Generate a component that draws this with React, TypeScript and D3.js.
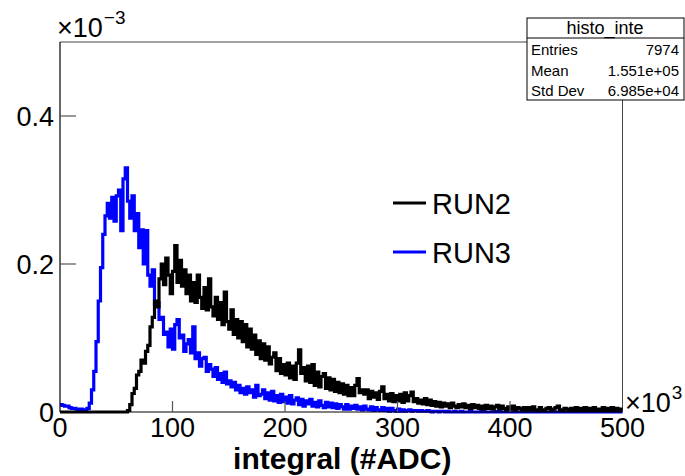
import React from "react";
import * as d3 from "d3";

// Histogram binning: 250 bins of 2000 ADC over 0..500k
const BIN_WIDTH = 2000;
const X_MAX = 500000;
const Y_MAX = 0.5e-3;
// Bin contents in units of 1e-6 (normalised entries)
const RUN2 = [
  0, 0, 0, 0, 0, 0, 0, 0, 0, 0,
  0, 0, 0, 0, 0, 0, 0, 0, 0, 0,
  0, 0, 0, 0, 0, 0, 0, 0, 0, 0,
  2, 10, 25, 32, 50, 55, 70, 66, 82, 90,
  115, 128, 150, 142, 180, 200, 172, 208, 185, 160,
  190, 225, 175, 205, 170, 192, 160, 185, 150, 175,
  148, 185, 155, 140, 168, 138, 180, 142, 130, 155,
  125, 148, 118, 162, 122, 112, 138, 105, 125, 100,
  122, 95, 118, 88, 112, 85, 104, 78, 96, 72,
  92, 70, 88, 65, 74, 80, 56, 72, 52, 64,
  50, 66, 46, 62, 44, 66, 84, 52, 60, 42,
  62, 40, 64, 36, 54, 34, 48, 52, 32, 46,
  30, 44, 28, 40, 26, 38, 24, 36, 22, 33,
  22, 36, 45, 26, 30, 24, 30, 18, 28, 20,
  26, 17, 28, 34, 18, 24, 15, 25, 14, 22,
  15, 24, 13, 26, 15, 22, 27, 14, 18, 12,
  16, 11, 18, 10, 16, 9, 14, 8, 13, 7,
  12, 8, 11, 6, 12, 8, 6, 10, 7, 11,
  6, 9, 5, 10, 6, 9, 5, 8, 4, 9,
  5, 8, 4, 7, 9, 4, 8, 5, 3, 7,
  4, 8, 3, 6, 5, 3, 6, 2, 6, 3,
  7, 3, 2, 6, 3, 2, 5, 6, 2, 4,
  6, 8, 3, 2, 5, 4, 2, 5, 2, 6,
  2, 5, 2, 6, 2, 5, 2, 6, 2, 4,
  2, 6, 2, 5, 2, 6, 2, 5, 2, 4,
];
const RUN3 = [
  10, 9, 8, 8, 6, 5, 5, 4, 3, 4,
  3, 3, 5, 12, 30, 55, 95, 150, 195, 240,
  265, 282, 262, 290, 258, 292, 300, 245, 315, 330,
  285, 262, 292, 245, 268, 222, 246, 200, 245, 185,
  170, 192, 145, 148, 125, 128, 105, 108, 88, 112,
  85, 118, 125, 100, 104, 82, 92, 98, 80, 115,
  72, 80, 62, 72, 74, 55, 64, 58, 48, 60,
  44, 52, 40, 54, 38, 42, 34, 40, 30, 36,
  26, 32, 24, 34, 26, 30, 20, 36, 22, 24,
  30, 18, 26, 16, 28, 15, 22, 13, 24, 14,
  20, 12, 22, 11, 16, 19, 10, 17, 8, 15,
  11, 17, 8, 13, 7, 15, 9, 6, 13, 7,
  12, 6, 11, 5, 10, 7, 4, 10, 4, 8,
  5, 9, 4, 7, 3, 8, 4, 3, 7, 2,
  6, 3, 2, 6, 2, 5, 1, 5, 2, 1,
  4, 1, 3, 1, 2, 3, 1, 2, 2, 1,
  2, 1, 1, 2, 1, 0, 1, 1, 0, 1,
  1, 0, 1, 0, 0, 1, 0, 0, 1, 0,
  0, 0, 1, 0, 0, 0, 0, 1, 0, 0,
  0, 0, 0, 0, 1, 0, 0, 0, 0, 0,
  0, 0, 0, 0, 0, 0, 0, 0, 0, 0,
  0, 0, 0, 0, 0, 0, 0, 0, 0, 0,
  0, 0, 0, 0, 0, 0, 0, 0, 0, 0,
  0, 0, 0, 0, 0, 0, 0, 0, 0, 0,
  0, 0, 0, 0, 0, 0, 0, 0, 0, 0,
];

const SERIES_NAMES = ["RUN2", "RUN3"];
const SERIES_COLORS = ["#000000", "#0000ff"];

const X_TICKS = [0, 100000, 200000, 300000, 400000, 500000];
const X_TICK_LABELS = ["0", "100", "200", "300", "400", "500"];
const Y_TICKS = [0, 0.2e-3, 0.4e-3];
const Y_TICK_LABELS = ["0", "0.2", "0.4"];
const X_TITLE = "integral (#ADC)";

const STATS_TITLE = "histo_inte";
const STATS_LABELS = ["Entries", "Mean", "Std Dev"];
const STATS_VALUES = ["7974", "1.551e+05", "6.985e+04"];

const FONT = "'Liberation Sans', Arial, Helvetica, sans-serif";

export default function App() {
  const W = 685;
  const H = 476;
  const left = 60;
  const right = 622.5;
  const top = 42;
  const bottom = 412;

  const x = d3.scaleLinear().domain([0, X_MAX]).range([left, right]);
  const y = d3.scaleLinear().domain([0, Y_MAX]).range([bottom, top]);

  const line = d3
    .line<[number, number]>()
    .x((d) => x(d[0]))
    .y((d) => y(d[1]))
    .curve(d3.curveStepAfter);

  const toPoints = (arr: number[]): [number, number][] => {
    const pts: [number, number][] = arr.map((v, i) => [i * BIN_WIDTH, v * 1e-6]);
    pts.push([arr.length * BIN_WIDTH, arr[arr.length - 1] * 1e-6]);
    return pts;
  };

  const series = [RUN2, RUN3];
  const drawOrder = [1, 0];

  const tickFs = 27;

  return (
    <div style={{ position: "absolute", left: 0, top: 0 }}>
      <svg width={W} height={H} style={{ display: "block", background: "#fff" }} fontFamily={FONT}>
        <rect x={0} y={0} width={W} height={H} fill="#fff" />
        {/* frame */}
        <line x1={left} y1={top} x2={right} y2={top} stroke="#444" strokeWidth={1} />
        <line x1={right} y1={top} x2={right} y2={bottom} stroke="#444" strokeWidth={1} />

        {/* histograms */}
        {drawOrder.map((k) => (
          <path
            key={SERIES_NAMES[k]}
            d={line(toPoints(series[k])) || ""}
            fill="none"
            stroke={SERIES_COLORS[k]}
            strokeWidth={3.2}
            strokeLinejoin="miter"
          />
        ))}

        {/* axes */}
        <line x1={left} y1={top} x2={left} y2={bottom} stroke="#000" strokeWidth={1.2} />
        <line x1={left} y1={bottom} x2={right} y2={bottom} stroke="#000" strokeWidth={1.2} />

        {/* y ticks */}
        {Y_TICKS.map((t, i) => (
          <g key={"yt" + i}>
            {t > 0 && (
              <line x1={left} x2={left + 16} y1={y(t)} y2={y(t)} stroke="#555" strokeWidth={1.2} />
            )}
            <text
              x={left - 6}
              y={y(t) + tickFs * 0.36}
              fontSize={tickFs}
              textAnchor="end"
              fill="#000"
            >
              {Y_TICK_LABELS[i]}
            </text>
          </g>
        ))}

        {/* x ticks */}
        {X_TICKS.map((t, i) => (
          <g key={"xt" + i}>
            {t > 0 && t < X_MAX && (
              <line x1={x(t)} x2={x(t)} y1={bottom} y2={bottom - 11} stroke="#555" strokeWidth={1.2} />
            )}
            <text x={x(t)} y={437} fontSize={tickFs} textAnchor="middle" fill="#000">
              {X_TICK_LABELS[i]}
            </text>
          </g>
        ))}

        {/* axis exponents */}
        <text x={57} y={37} fontSize={27} fill="#000">
          ×10
          <tspan dx={1} dy={-13} fontSize={19}>
            −3
          </tspan>
        </text>
        <text x={625} y={412} fontSize={27} fill="#000">
          ×10
          <tspan dx={1} dy={-13} fontSize={19}>
            3
          </tspan>
        </text>

        {/* x title */}
        <text
          x={(left + right) / 2 + 1}
          y={469}
          fontSize={30}
          fontWeight="bold"
          textAnchor="middle"
          fill="#000"
        >
          {X_TITLE}
        </text>

        {/* legend */}
        {SERIES_NAMES.map((name, i) => {
          const ly = 203 + i * 49;
          return (
            <g key={"lg" + i}>
              <line x1={393} x2={426} y1={ly} y2={ly} stroke={SERIES_COLORS[i]} strokeWidth={3} />
              <text x={432} y={ly + 11} fontSize={29} fill="#000">
                {name}
              </text>
            </g>
          );
        })}

        {/* stats box */}
        <g>
          <rect x={527} y={18} width={157} height={82} fill="#fff" stroke="#000" strokeWidth={1} />
          <line x1={527} x2={684} y1={38} y2={38} stroke="#000" strokeWidth={1} />
          <text x={605} y={34} fontSize={18} textAnchor="middle" fill="#000">
            {STATS_TITLE}
          </text>
          {STATS_LABELS.map((lab, i) => (
            <g key={"st" + i}>
              <text x={531} y={55 + i * 20.7} fontSize={15} fill="#000">
                {lab}
              </text>
              <text x={679} y={55 + i * 20.7} fontSize={15} textAnchor="end" fill="#000">
                {STATS_VALUES[i]}
              </text>
            </g>
          ))}
        </g>
      </svg>
    </div>
  );
}
